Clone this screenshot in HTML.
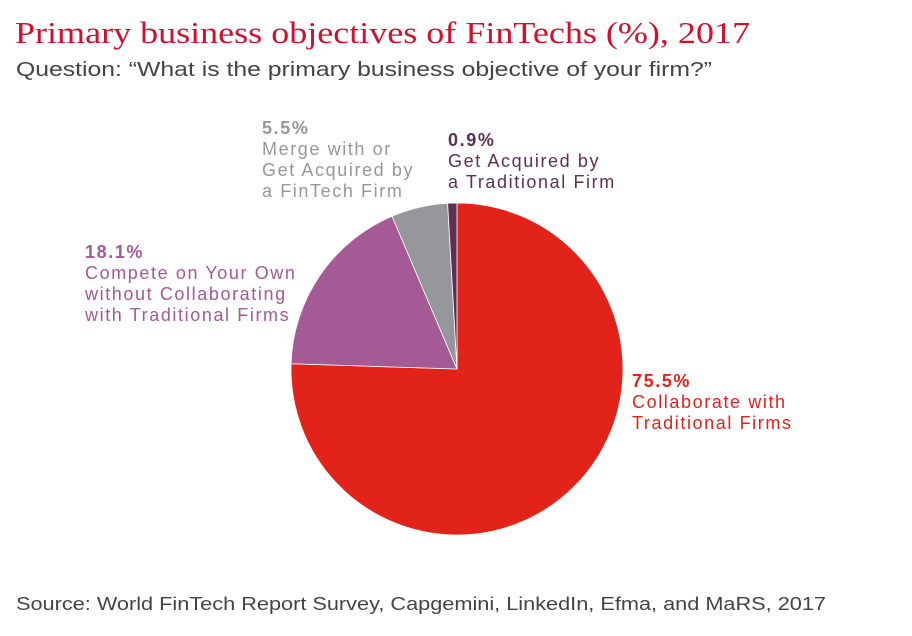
<!DOCTYPE html>
<html><head><meta charset="utf-8"><style>
body{margin:0;background:#fff;width:912px;height:631px;overflow:hidden;font-family:"Liberation Sans",sans-serif}
</style></head><body>
<svg width="912" height="631" viewBox="0 0 912 631" xmlns="http://www.w3.org/2000/svg">
<text x="15" y="43" font-family="Liberation Serif" font-size="31" fill="#d0102e" textLength="735" lengthAdjust="spacingAndGlyphs">Primary business objectives of FinTechs (%), 2017</text>
<text x="16" y="76" font-size="20" fill="#444" textLength="696" lengthAdjust="spacingAndGlyphs">Question: “What is the primary business objective of your firm?”</text>
<g id="pie"></g>
<g id="labels"></g>
<text x="16" y="610" font-size="18" fill="#444" textLength="810" lengthAdjust="spacingAndGlyphs">Source: World FinTech Report Survey, Capgemini, LinkedIn, Efma, and MaRS, 2017</text>
</svg>
<script>
const categories=["Collaborate with|Traditional Firms","Compete on Your Own|without Collaborating|with Traditional Firms","Merge with or|Get Acquired by|a FinTech Firm","Get Acquired by|a Traditional Firm"];
const values=[75.5,18.1,5.5,0.9];
const valueLabels=["75.5%","18.1%","5.5%","0.9%"];
const colors=["#e2231a","#a45a95","#96979b","#5e2f53"];
const labelColors=["#e2231a","#a45a95","#96979b","#5e2f53"];
const labelPos=[[632,387,"start"],[85,258,"start"],[262,134,"start"],[448,146,"start"]];
const NS="http://www.w3.org/2000/svg";
const cx=457,cy=369,r=166;
const total=values.reduce((a,b)=>a+b,0);
function pt(a){return [cx+r*Math.sin(a),cy-r*Math.cos(a)];}
const pie=document.getElementById('pie');
let acc=0;
values.forEach((v,i)=>{
  const a0=acc/total*2*Math.PI; acc+=v; const a1=acc/total*2*Math.PI;
  const p0=pt(a0),p1=pt(a1);
  const path=document.createElementNS(NS,'path');
  path.setAttribute('d',`M${cx},${cy}L${p0[0]},${p0[1]}A${r},${r} 0 ${a1-a0>Math.PI?1:0} 1 ${p1[0]},${p1[1]}Z`);
  path.setAttribute('fill',colors[i]);
  path.setAttribute('stroke','#fff');
  path.setAttribute('stroke-width','0.8');
  
  
  pie.appendChild(path);
});
const lg=document.getElementById('labels');
categories.forEach((c,i)=>{
  const t=document.createElementNS(NS,'text');
  
  
  t.setAttribute('font-size','18');
  t.setAttribute('letter-spacing','1.6');
  t.setAttribute('fill',labelColors[i]);
  const [x,y]=labelPos[i];
  const lines=[valueLabels[i]].concat(c.split('|'));
  lines.forEach((l,j)=>{
    const s=document.createElementNS(NS,'tspan');
    s.setAttribute('x',x);s.setAttribute('y',y+j*21);
    if(j===0)s.setAttribute('font-weight','bold');
    s.textContent=l;t.appendChild(s);
  });
  lg.appendChild(t);
});
</script>
</body></html>
